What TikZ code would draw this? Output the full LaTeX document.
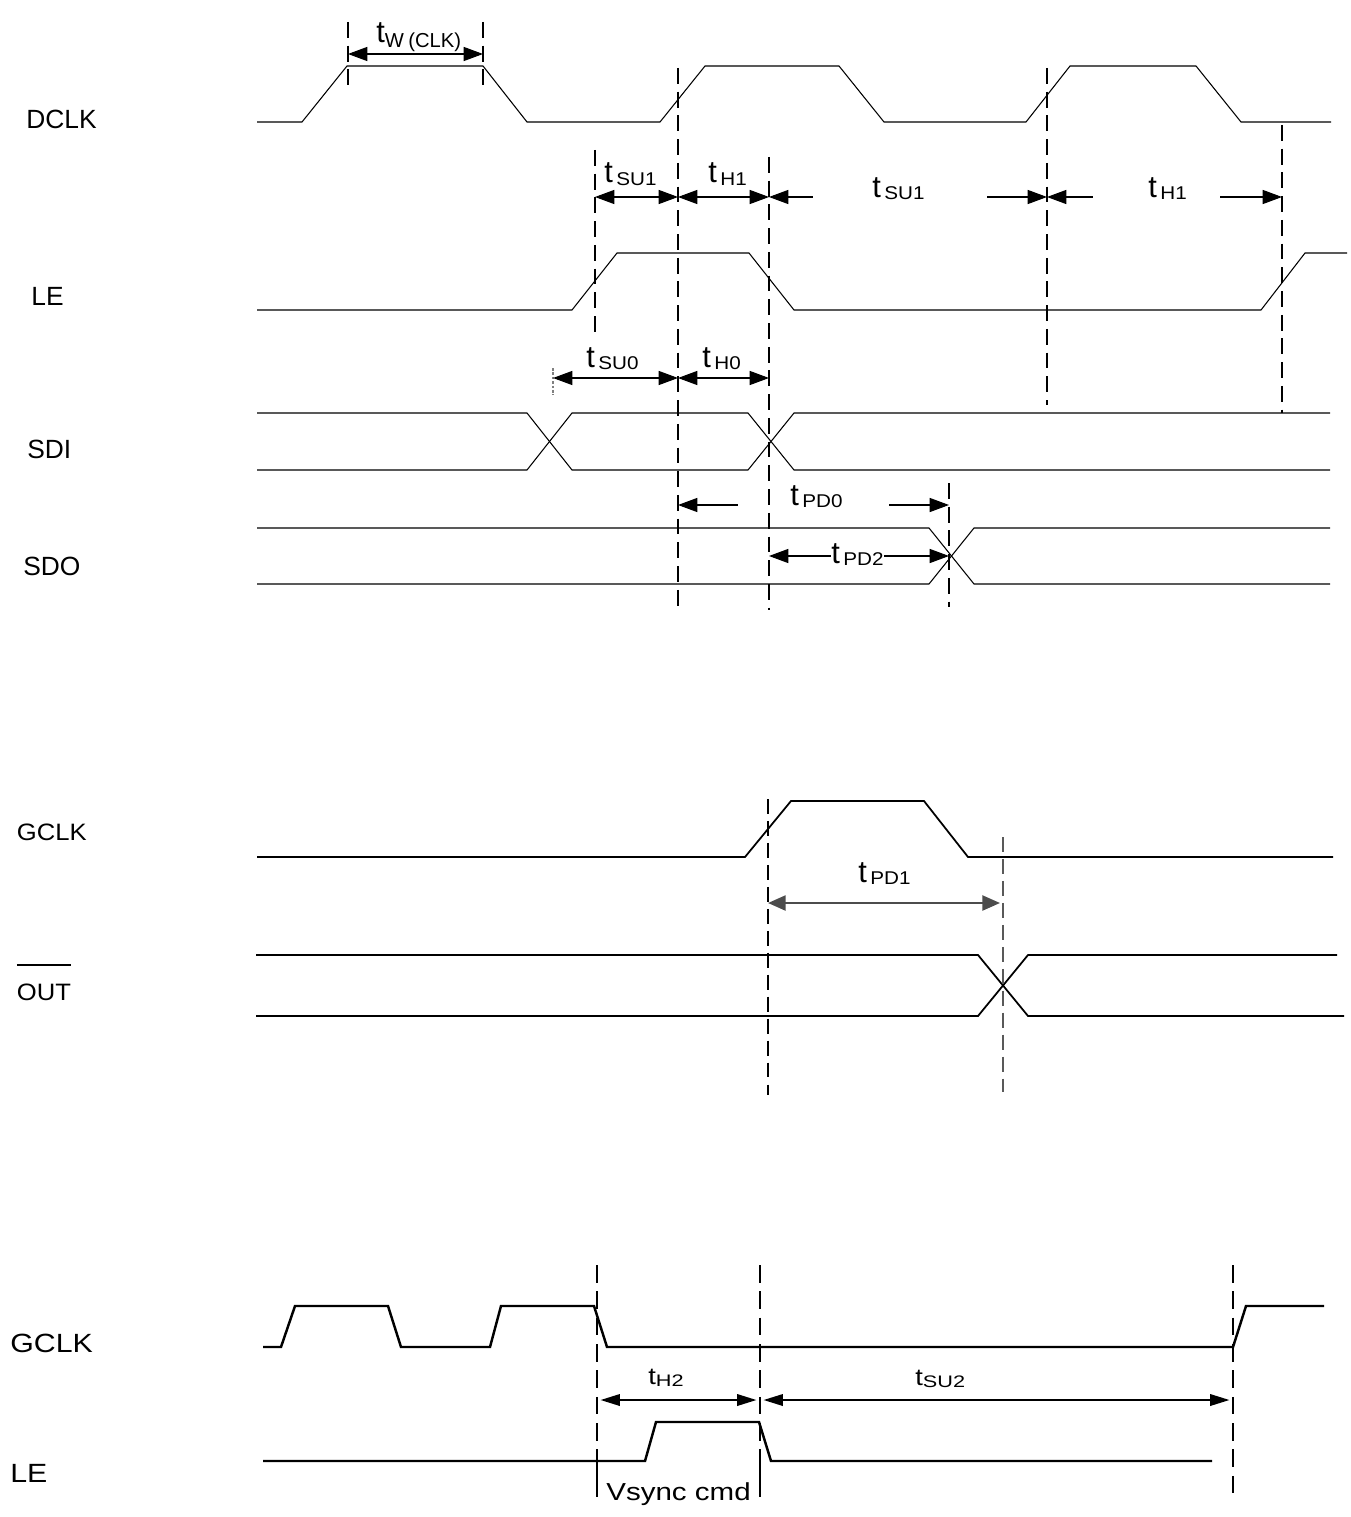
\documentclass[tikz,border=0pt]{standalone}
\usepackage{fontspec}
\usepackage{graphicx}
\setmainfont{Liberation Sans}
\usetikzlibrary{arrows.meta}
\newcommand{\tsym}[1]{{\fontsize{17.5}{17.5}\selectfont t}\hspace{2pt}\raisebox{-1.2pt}{\scalebox{1.12}[1]{\fontsize{10.5}{10.5}\selectfont #1}}}
\newcommand{\tsymlow}[1]{\scalebox{1.15}[1]{\fontsize{13.5}{13.5}\selectfont t}\raisebox{-1.5pt}{\scalebox{1.3}[1]{\fontsize{9.5}{9.5}\selectfont #1}}}
\tikzset{%
  every signal/.style={
    anchor=base west,
    inner sep=0pt,
    font=\fontsize{15}{15}\selectfont
  },
  signal mid/.style={font=\fontsize{13.5}{13.5}\selectfont},
  delay/.style={anchor=base west, inner sep=0pt},
  wave/.style={line width=0.6pt},
  wave mid/.style={line width=1pt},
  wave low/.style={line width=1.4pt},
  guide/.style={line width=1pt, dash pattern=on 9pt off 4.5pt},
  guide mid/.style={line width=0.9pt, dash pattern=on 8.5pt off 4pt},
  guide low/.style={line width=1.3pt, dash pattern=on 10pt off 5pt},
  dim/.style={line width=0.6pt},
  dim mid/.style={line width=1.3pt, draw=black!70, >={Triangle[length=10pt,width=8.5pt]}},
  dim low/.style={line width=1.2pt, shorten <=2pt, shorten >=2pt, >={Triangle[length=11pt,width=6.5pt]}},
}

\begin{document}
\begin{tikzpicture}[x=0.02cm, y=-0.02cm, >={Triangle[length=11pt,width=8pt]}]

    \useasboundingbox (0,0) rectangle (1350,1517);

    % serial interface
    \foreach \n/\x/\y in {DCLK/26/129, LE/31/305, SDI/27/458, SDO/23/575}
    \node [every signal] (lbl-\n) at (\x,\y) {\n};

    \draw [wave] (257,122) -- (302,122) -- (347,66) -- (483,66) -- (527,122)
        -- (660,122) -- (705,66) -- (839,66) -- (884,122) -- (1026,122)
        -- (1070,66) -- (1196,66) -- (1241,122) -- (1331,122);
    \draw [wave] (257,310) -- (572,310) -- (617,253) -- (749,253) -- (794,310)
        -- (1261,310) -- (1305,253) -- (1347,253);
    \draw [wave] (257,413) -- (527,413) -- (572,470) -- (748,470) -- (794,413) -- (1330,413);
    \draw [wave] (257,470) -- (527,470) -- (572,413) -- (748,413) -- (794,470) -- (1330,470);
    \draw [wave] (257,528) -- (929,528) -- (974,584) -- (1330,584);
    \draw [wave] (257,584) -- (929,584) -- (974,528) -- (1330,528);

    \foreach \x/\a/\b in {348/22/93, 483/22/93, 595/150/337, 678/68/610,
        769/157/610, 1047/68/405, 1282/125/413, 949/483/607}
    \draw [guide] (\x,\a) -- (\x,\b);
    \draw [gray, line width=0.6pt, dash pattern=on 1.5pt off 1pt] (553,368) -- (553,395);

    \coordinate (tw-l) at (348,54);
    \coordinate (tw-r) at (483,54);
    \coordinate (su1-l) at (595,197);
    \coordinate (clk1-a) at (678,197);
    \coordinate (h1-a) at (769,197);
    \coordinate (clk2-a) at (1047,197);
    \coordinate (h1-r) at (1282,197);
    \coordinate (su0-l) at (553,378);
    \coordinate (clk1-b) at (678,378);
    \coordinate (h0-r) at (769,378);
    \coordinate (clk1-c) at (678,505);
    \coordinate (pd0-r) at (949,505);
    \coordinate (h1-c) at (769,556);
    \coordinate (pd2-r) at (949,556);

    \node [delay] (lbl-tw) at (376,43)
        {{\fontsize{17.5}{17.5}\selectfont t}\raisebox{-2.3pt}{\fontsize{11.5}{11.5}\selectfont W\hspace{2.5pt}(CLK)}};
    \node [delay] (lbl-su1a) at (604,183) {\tsym{SU1}};
    \node [delay] (lbl-h1a) at (708,183) {\tsym{H1}};
    \node [delay] (lbl-su1b) at (872,197) {\tsym{SU1}};
    \node [delay] (lbl-h1b) at (1148,197) {\tsym{H1}};
    \node [delay] (lbl-su0) at (586,367) {\tsym{SU0}};
    \node [delay] (lbl-h0) at (702,367) {\tsym{H0}};
    \node [delay] (lbl-pd0) at (790,505) {\tsym{PD0}};
    \node [delay] (lbl-pd2) at (831,563) {\tsym{PD2}};

    \draw [<->, dim] (tw-l) -- (tw-r);
    \draw [<->, dim] (su1-l) -- (clk1-a);
    \draw [<->, dim] (clk1-a) -- (h1-a);
    \draw [<-, dim] (h1-a) -- ++(44,0);
    \draw [->, dim] (clk2-a) ++(-60,0) -- (clk2-a);
    \draw [<-, dim] (clk2-a) -- ++(46,0);
    \draw [->, dim] (h1-r) ++(-62,0) -- (h1-r);
    \draw [<->, dim] (su0-l) -- (clk1-b);
    \draw [<->, dim] (clk1-b) -- (h0-r);
    \draw [<-, dim] (clk1-c) -- ++(60,0);
    \draw [->, dim] (pd0-r) ++(-60,0) -- (pd0-r);
    \draw [<-, dim] (h1-c) -- (lbl-pd2.west |- h1-c);
    \draw [->, dim] (lbl-pd2.east |- pd2-r) -- (pd2-r);

    % gray scale clock to output
    \node [every signal, signal mid] (lbl-gclk) at (16.5,840) {\scalebox{1.08}[1]{GCLK}};
    \node [every signal, signal mid] (lbl-out) at (16.5,1000)
        {\setlength{\arrayrulewidth}{1pt}\begin{tabular}[b]{@{}l@{}}\hline\rule{0pt}{19.5pt}\scalebox{1.08}[1]{OUT}\end{tabular}};

    \draw [wave mid] (257,857) -- (745,857) -- (791,801) -- (924,801) -- (968,857) -- (1333,857);
    \draw [wave mid] (256,955) -- (978,955) -- (1028,1016) -- (1344,1016);
    \draw [wave mid] (256,1016) -- (978,1016) -- (1028,955) -- (1337,955);

    \draw [guide mid] (768,799) -- (768,1095);
    \draw [guide mid, black!65] (1003,837) -- (1003,1092);

    \coordinate (pd1-l) at (768,903);
    \coordinate (pd1-r) at (1000,903);
    \node [delay] (lbl-pd1) at (858,882) {\tsym{PD1}};
    \draw [<->, dim mid] (pd1-l) -- (pd1-r);

    % vsync command
    \node [every signal] (lbl-gclk2) at (10,1352) {\scalebox{1.15}[1]{GCLK}};
    \node [every signal] (lbl-le2) at (10,1482) {\scalebox{1.15}[1]{LE}};

    \draw [wave low] (263,1347) -- (281,1347) -- (295,1306) -- (388,1306) -- (401,1347)
        -- (490,1347) -- (501,1306) -- (594,1306) -- (607,1347) -- (1233,1347)
        -- (1246,1306) -- (1324,1306);
    \draw [wave low] (263,1461) -- (645,1461) -- (656,1422) -- (759,1422) -- (771,1461) -- (1212,1461);

    \foreach \x in {597, 760, 1233}
    \draw [guide low] (\x,1265) -- (\x,1498);
    \foreach \x in {597, 760}
    \draw [line width=1.3pt] (\x,1465) -- (\x,1497);

    \coordinate (h2-l) at (597,1400);
    \coordinate (h2-r) at (760,1400);
    \coordinate (su2-r) at (1233,1400);
    \node [delay] (lbl-h2) at (648,1384) {\tsymlow{H2}};
    \node [delay] (lbl-su2) at (915,1385) {\tsymlow{SU2}};
    \draw [<->, dim low] (h2-l) -- (h2-r);
    \draw [<->, dim low] (h2-r) -- (su2-r);

    \node [delay, font=\fontsize{14}{14}\selectfont] (lbl-vsync) at (606,1500) {\scalebox{1.2}[1]{Vsync cmd}};

\end{tikzpicture}
\end{document}
